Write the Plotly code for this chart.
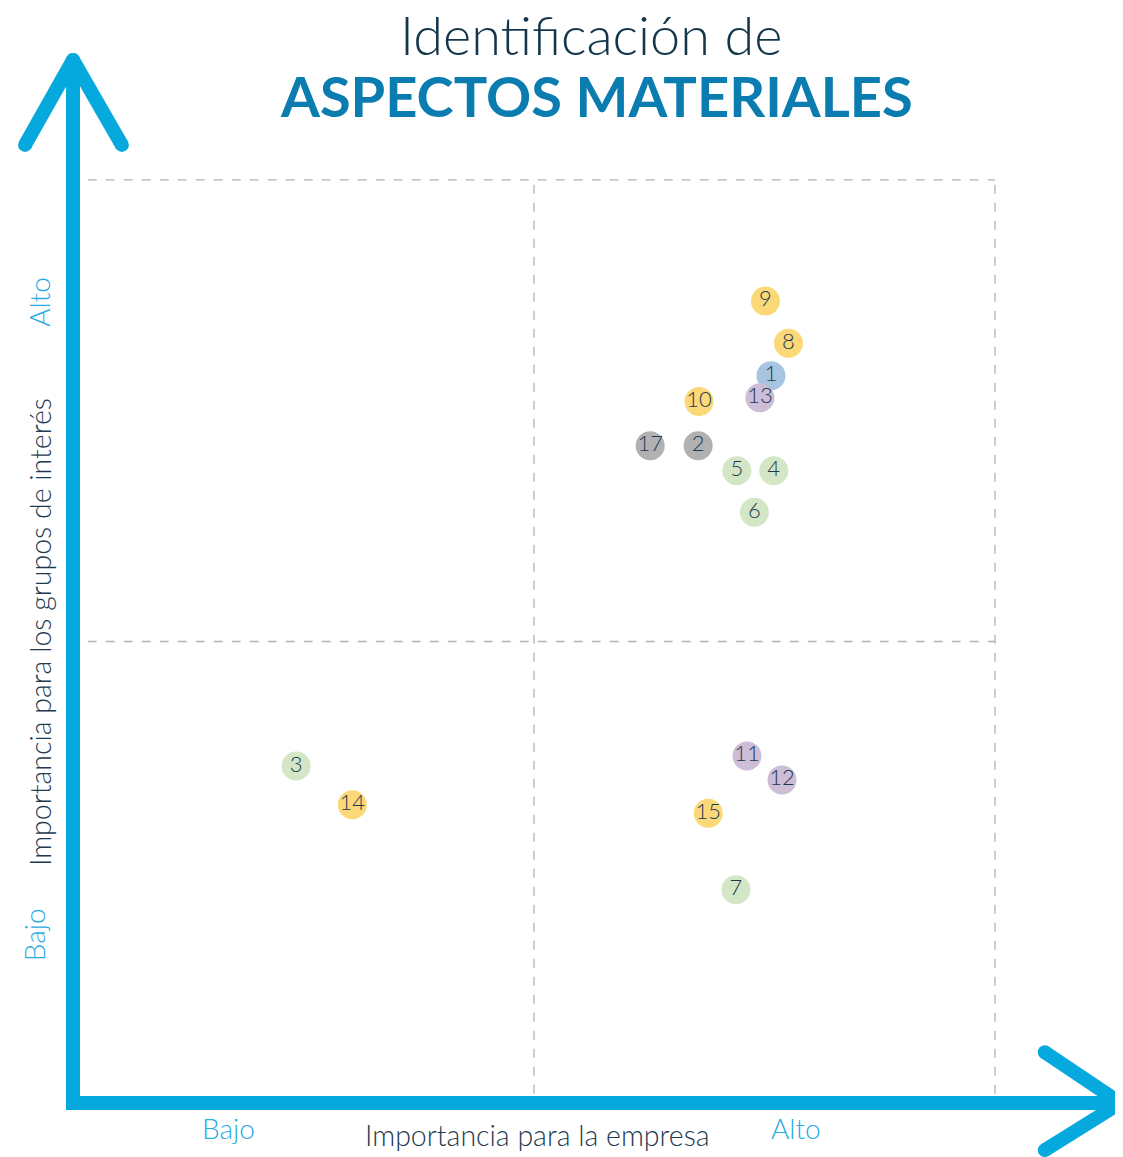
import plotly.graph_objects as go

# ---- data (scores on a 0-10 scale; 5 = quadrant split) ----
labels = ["1", "2", "3", "4", "5", "6", "7", "8", "9", "10", "11", "12", "13", "14", "15", "17"]
empresa = [7.57, 6.78, 2.42, 7.60, 7.20, 7.39, 7.19, 7.76, 7.51, 6.79, 7.31, 7.69, 7.45, 3.03, 6.89, 6.26]
grupos = [7.88, 7.12, 3.65, 6.85, 6.85, 6.40, 2.31, 8.23, 8.69, 7.60, 3.76, 3.50, 7.64, 3.23, 3.14, 7.12]
grupo_color = ["azul", "gris", "verde", "verde", "verde", "verde", "verde", "amarillo", "amarillo",
               "amarillo", "morado", "morado", "morado", "amarillo", "amarillo", "gris"]

palette = {"amarillo": "#fbd878", "azul": "#a7c5e1", "morado": "#cdbdd7",
           "gris": "#b1b1b1", "verde": "#d3e6c5"}

# page body has an 8px margin; ranges are chosen so the scale lands where the reference has it
x_range = [-0.705, 11.388]
y_range = [-0.585, 11.863]
AXIS_BLUE = "#05a9dd"
LIGHT_BLUE = "#2aabe2"
DARK = "#1d3a4f"

fig = go.Figure()

# dashed quadrant grid
grid = dict(color="#b3b3b3", width=1.3, dash="dash")
fig.add_shape(type="line", x0=0.16, x1=10, y0=10, y1=10, line=grid)
fig.add_shape(type="line", x0=0.16, x1=10, y0=5, y1=5, line=grid)
fig.add_shape(type="line", x0=5, x1=5, y0=0.1, y1=10, line=grid)
fig.add_shape(type="line", x0=10, x1=10, y0=0.1, y1=10, line=grid)

# axes with arrowheads
arrow_paths = [
    ([-0.52, 0, 0.53], [10.38, 11.30, 10.38]),
    ([0, 0, 11.36], [11.30, 0, 0]),
    ([10.54, 11.36, 10.54], [0.55, 0, -0.51]),
]
for ax_x, ax_y in arrow_paths:
    fig.add_trace(go.Scatter(x=ax_x, y=ax_y, mode="lines+markers",
                             line=dict(color=AXIS_BLUE, width=14),
                             marker=dict(color=AXIS_BLUE, size=14),
                             hoverinfo="skip", showlegend=False))

# points (draw 1 before 13 so 13 overlaps)
order = sorted(range(len(labels)), key=lambda i: 1 if labels[i] == "13" else 0)
fig.add_trace(go.Scatter(
    x=[empresa[i] for i in order], y=[grupos[i] for i in order],
    text=[labels[i] for i in order], mode="markers+text",
    marker=dict(size=29, color=[palette[grupo_color[i]] for i in order], line=dict(width=0)),
    textposition="middle center",
    textfont=dict(family="Lato", size=22, color=DARK, weight=300),
    showlegend=False, hoverinfo="text"))

def ann(text, x, y, size, color, angle=0, weight=300):
    fig.add_annotation(x=x, y=y, xref="x", yref="y", text=text, showarrow=False,
                       textangle=angle, xanchor="center", yanchor="middle",
                       font=dict(family="Lato", size=size, color=color, weight=weight))

# titles
ann("Identificación de", 5.62, 11.58, 54, "#13364a", weight=300)
ann("<b>ASPECTOS MATERIALES</b>", 5.68, 10.92, 56, "#0a7cb0", weight=700)

# axis labels
ann("Importancia para la empresa", 5.04, -0.35, 28.5, DARK)
ann("Bajo", 1.69, -0.27, 28, LIGHT_BLUE)
ann("Alto", 7.84, -0.27, 28, LIGHT_BLUE)
ann("Importancia para los grupos de interés", -0.36, 5.1, 28.5, DARK, angle=-90)
ann("Alto", -0.37, 8.68, 28, LIGHT_BLUE, angle=-90)
ann("Bajo", -0.42, 1.82, 28, LIGHT_BLUE, angle=-90)

fig.update_xaxes(range=x_range, visible=False, fixedrange=True)
fig.update_yaxes(range=y_range, visible=False, fixedrange=True)
fig.update_layout(width=1115, height=1149, margin=dict(l=0, r=0, t=0, b=0),
                  plot_bgcolor="white", paper_bgcolor="white")

fig.write_html("out.html")
